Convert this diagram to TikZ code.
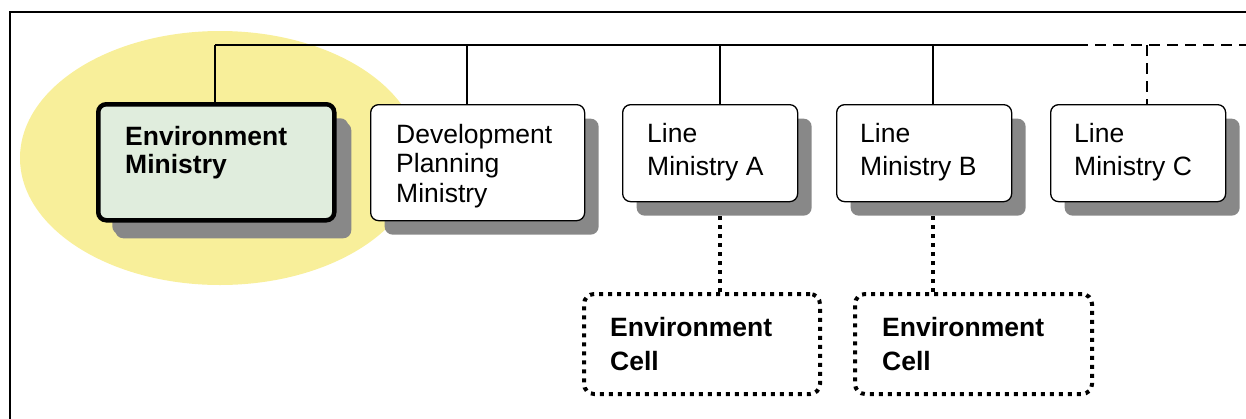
\documentclass[tikz,border=0pt]{standalone}
\usepackage{fontspec}
\setmainfont{Liberation Sans}
\usetikzlibrary{shadows}
\definecolor{halo}{RGB}{248,239,154}
\definecolor{shade}{RGB}{136,136,136}
\definecolor{envfill}{RGB}{224,237,221}
\begin{document}
\begin{tikzpicture}[x=1pt,y=-1pt,
  frame/.style={line width=1.3pt},
  bus/.style={line width=1.3pt},
  busdash/.style={line width=1.3pt,dash pattern=on 11pt off 7pt},
  dotlink/.style={line width=4pt,dash pattern=on 4pt off 5pt},
  ministry/.style={draw,line width=1.3pt,fill=white,rounded corners=8pt,
    anchor=north west,inner sep=0pt,
    drop shadow={shadow xshift=14pt,shadow yshift=-14pt,fill=shade,opacity=1}},
  envbox/.style={ministry,line width=4.5pt,fill=envfill,
    drop shadow={shadow xshift=17pt,shadow yshift=-18pt,fill=shade,opacity=1}},
  cellbox/.style={draw,line width=4pt,dash pattern=on 4pt off 5pt,
    rounded corners=10pt,anchor=north west,inner sep=0pt},
  txt/.style={anchor=base west,align=left,inner sep=0pt,
    font=\fontsize{26.5}{30}\selectfont},
  btxt/.style={txt,font=\fontsize{26.5}{30}\selectfont\bfseries},
]
\useasboundingbox (0,0) rectangle (1246,418);
% frame
\draw[frame] (10,420) -- (10,12) -- (1248,12);
% highlight ellipse
\fill[halo] (220,158) ellipse [x radius=200, y radius=127];
% boxes
\node[envbox,minimum width=236pt,minimum height=116pt] (env) at (96,102) {};
\node[ministry,minimum width=214pt,minimum height=116pt] (dev) at (370,104) {};
\node[ministry,minimum width=175pt,minimum height=97pt] (lma) at (622,104) {};
\node[ministry,minimum width=175pt,minimum height=97pt] (lmb) at (836,104) {};
\node[ministry,minimum width=175pt,minimum height=97pt] (lmc) at (1050,104) {};
\node[cellbox,minimum width=236pt,minimum height=100pt] (cella) at (582,292) {};
\node[cellbox,minimum width=237pt,minimum height=100pt] (cellb) at (853,292) {};
% texts (anchored at the baseline of their last line)
\node[btxt,font=\fontsize{26.5}{28}\selectfont\bfseries] (envt) at (125,173) {Environment\\Ministry};
\node[txt,font=\fontsize{26.5}{29.5}\selectfont] (devt) at (396,202) {Development\\Planning\\Ministry};
\node[txt,font=\fontsize{26.5}{33}\selectfont] (lmat) at (647,175) {Line\\Ministry A};
\node[txt,font=\fontsize{26.5}{33}\selectfont] (lmbt) at (860,175) {Line\\Ministry B};
\node[txt,font=\fontsize{26.5}{33}\selectfont] (lmct) at (1074,175) {Line\\Ministry C};
\node[btxt,font=\fontsize{26.5}{34}\selectfont\bfseries] (cellat) at (610,370) {Environment\\Cell};
\node[btxt,font=\fontsize{26.5}{34}\selectfont\bfseries] (cellbt) at (882,370) {Environment\\Cell};
% bus points
\coordinate (b1) at (215,45);
\coordinate (b2) at (467,45);
\coordinate (b3) at (720,45);
\coordinate (b4) at (933,45);
\coordinate (bs) at (1077,45);
\coordinate (b5) at (1147,45);
\coordinate (be) at (1248,45);
\draw[bus] (b1) -- (bs);
\draw[busdash] (bs) -- (be);
\draw[bus] (b1) -- (b1 |- env.north);
\draw[bus] (b2) -- (b2 |- dev.north);
\draw[bus] (b3) -- (b3 |- lma.north);
\draw[bus] (b4) -- (b4 |- lmb.north);
\draw[busdash] (b5) -- (b5 |- lmc.north);
% dotted links to cells
\draw[dotlink] (b3 |- lma.south) ++(0,14) -- (b3 |- cella.north);
\draw[dotlink] (b4 |- lmb.south) ++(0,14) -- (b4 |- cellb.north);
\end{tikzpicture}
\end{document}
